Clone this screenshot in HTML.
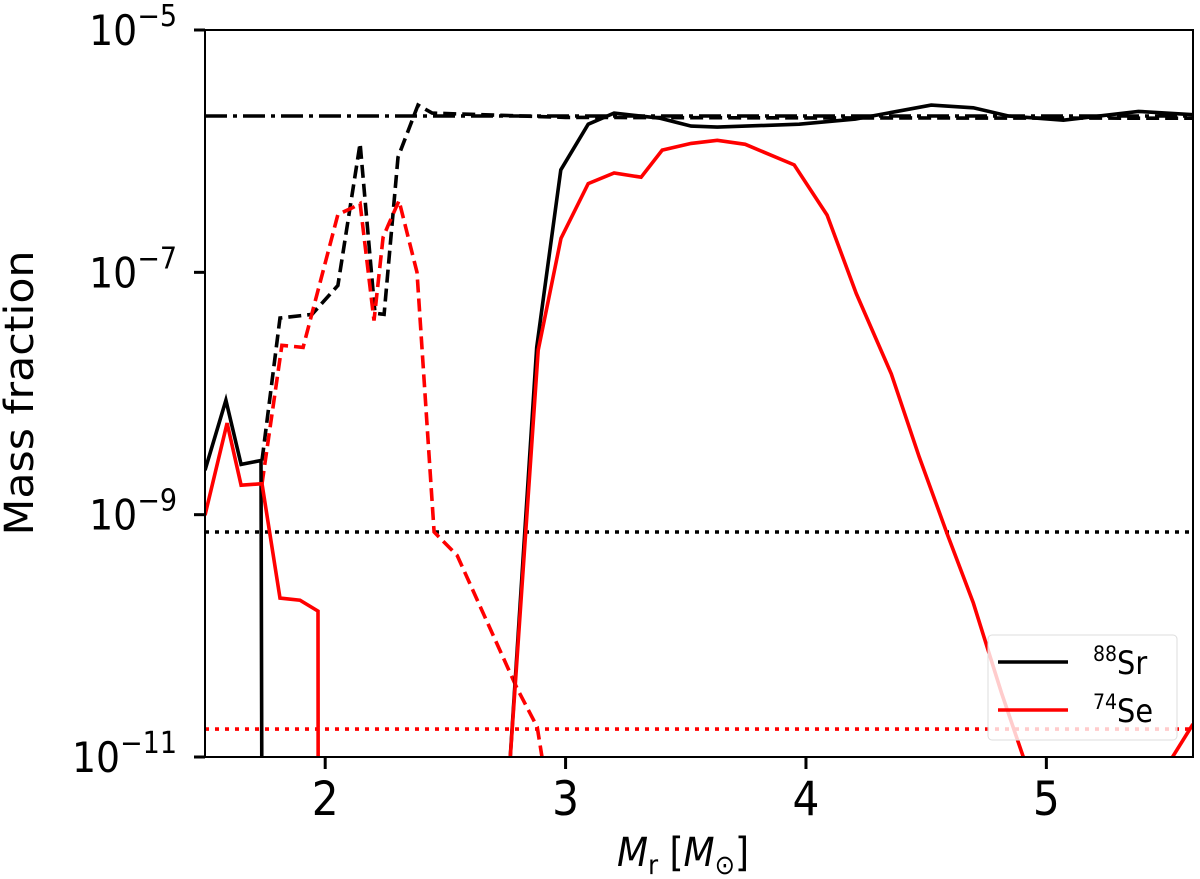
<!DOCTYPE html>
<html><head><meta charset="utf-8">
<style>
html,body{margin:0;padding:0;background:#fff;overflow:hidden;width:1200px;height:879px;}
svg{display:block;font-family:"DejaVu Sans Condensed","DejaVu Sans","Liberation Sans",sans-serif;}
</style></head>
<body>
<svg id="chart" width="1200" height="879" viewBox="0 0 1200 879" xmlns="http://www.w3.org/2000/svg">
<defs><clipPath id="plotclip"><rect x="205" y="30" width="988" height="727"/></clipPath></defs>
<rect x="0" y="0" width="1200" height="879" fill="#fff"/>
<g id="series" clip-path="url(#plotclip)"></g>
<rect x="205" y="30" width="988" height="727" fill="none" stroke="#000" stroke-width="2"/>
<g id="xticks"></g>
<g id="yticks"></g>
<text x="22" y="393" transform="rotate(-90 22 393)" text-anchor="middle" dominant-baseline="middle" font-size="40" textLength="285" lengthAdjust="spacingAndGlyphs">Mass fraction</text>
<text x="617" y="866" font-size="40"><tspan font-style="italic">M</tspan><tspan font-size="27" dy="8">r</tspan><tspan dy="-8"> [</tspan><tspan font-style="italic">M</tspan><tspan font-size="27" dy="8">⊙</tspan><tspan dy="-8">]</tspan></text>
<g>
<rect x="988" y="635" width="189" height="105" rx="4" fill="#fff" fill-opacity="0.8" stroke="#ddd" stroke-width="1"/>
<line x1="998" y1="662" x2="1068" y2="662" stroke="#000" stroke-width="3.5"/>
<text x="1093" y="674" font-size="32"><tspan font-size="21" dy="-13">88</tspan><tspan dy="13">Sr</tspan></text>
<line x1="998" y1="710" x2="1068" y2="710" stroke="#f00" stroke-width="3.5"/>
<text x="1093" y="722" font-size="32"><tspan font-size="21" dy="-13">74</tspan><tspan dy="13">Se</tspan></text>
</g>
</svg>
<script>
const xTicks = [2, 3, 4, 5];
const yTickExps = [-5, -7, -9, -11];
const srSolidM = [1.50, 1.587, 1.65, 1.733, 1.74, 2.76, 2.88, 2.98, 3.094, 3.202, 3.393, 3.522, 3.631, 3.972, 4.205, 4.521, 4.696, 4.842, 5.071, 5.383, 5.61];
const srSolidV = [2.33e-9, 8.8e-9, 2.6e-9, 2.8e-9, 1e-14, 5e-12, 2.4e-8, 7.0e-7, 1.67e-6, 2.06e-6, 1.87e-6, 1.61e-6, 1.58e-6, 1.67e-6, 1.84e-6, 2.4e-6, 2.28e-6, 1.95e-6, 1.8e-6, 2.13e-6, 2.0e-6];
const seSolidM = [1.50, 1.592, 1.65, 1.737, 1.812, 1.895, 1.970, 1.972, 2.77, 2.886, 2.981, 3.094, 3.202, 3.314, 3.402, 3.522, 3.631, 3.747, 3.951, 4.088, 4.209, 4.355, 4.471, 4.588, 4.696, 4.813, 4.904, 4.93, 5.0, 5.4, 5.61];
const seSolidV = [9.9e-10, 5.7e-9, 1.75e-9, 1.8e-9, 2.05e-10, 1.97e-10, 1.6e-10, 1e-14, 1e-11, 2.28e-8, 1.91e-7, 5.4e-7, 6.6e-7, 6.1e-7, 1.02e-6, 1.16e-6, 1.23e-6, 1.14e-6, 7.7e-7, 2.97e-7, 6.7e-8, 1.45e-8, 3.0e-9, 6.9e-10, 1.87e-10, 3.4e-11, 1e-11, 5e-12, 1e-13, 4e-12, 1.87e-11];
const srDashM = [1.737, 1.812, 1.945, 2.053, 2.145, 2.207, 2.245, 2.303, 2.386, 2.445, 3.0, 4.0, 5.61];
const srDashV = [2.8e-9, 4.2e-8, 4.5e-8, 7.8e-8, 1.16e-6, 4.6e-8, 4.5e-8, 8.9e-7, 2.4e-6, 2.06e-6, 1.9e-6, 1.88e-6, 1.87e-6];
const seDashM = [1.737, 1.820, 1.908, 2.053, 2.112, 2.145, 2.203, 2.241, 2.262, 2.307, 2.382, 2.453, 2.549, 2.798, 2.882, 2.902, 2.92];
const seDashV = [1.8e-9, 2.5e-8, 2.4e-8, 3.0e-7, 3.4e-7, 3.7e-7, 4.0e-8, 1.95e-7, 2.45e-7, 3.9e-7, 1.0e-7, 7.2e-10, 4.6e-10, 3.7e-11, 1.77e-11, 1e-11, 5e-12];
const refRange = [1.5, 5.61];
const srInitial = 1.95e-6;
const srSolar = 7.2e-10;
const seSolar = 1.7e-11;

const NS = 'http://www.w3.org/2000/svg';
const X0 = 205, X1 = 1193, Y0 = 30, Y1 = 757;
const xMin = 1.5, xMax = 5.61, yMinE = -11, yMaxE = -5;
function xs(m){ return X0 + (m - xMin) / (xMax - xMin) * (X1 - X0); }
function ys(v){ return Y1 - (Math.log10(v) - yMinE) / (yMaxE - yMinE) * (Y1 - Y0); }

const g = document.getElementById('series');
function line(ms, vs, color, dash, name){
  const p = document.createElementNS(NS, 'path');
  let d = '';
  for (let i = 0; i < ms.length; i++) d += (i ? 'L' : 'M') + xs(ms[i]).toFixed(1) + ' ' + ys(vs[i]).toFixed(1);
  p.setAttribute('d', d);
  p.setAttribute('fill', 'none');
  p.setAttribute('stroke', color);
  p.setAttribute('stroke-width', '3.6');
  p.setAttribute('stroke-linejoin', 'miter');
  if (dash) p.setAttribute('stroke-dasharray', dash);
  
  
  g.appendChild(p);
}
line(refRange, [srInitial, srInitial], '#000', '22 6 4 6', 'sr88-initial-line');
line(refRange, [srSolar, srSolar], '#000', '4 6', 'sr88-solar-line');
line(refRange, [seSolar, seSolar], '#f00', '4 6', 'se74-solar-line');
line(srDashM, srDashV, '#000', '13 6', 'sr88-dashed-line');
line(seDashM, seDashV, '#f00', '13 6', 'se74-dashed-line');
line(srSolidM, srSolidV, '#000', null, 'sr88-solid-line');
line(seSolidM, seSolidV, '#f00', null, 'se74-solid-line');

const xg = document.getElementById('xticks');
xTicks.forEach(t => {
  const x = xs(t);
  const l = document.createElementNS(NS, 'line');
  l.setAttribute('x1', x); l.setAttribute('x2', x);
  l.setAttribute('y1', Y1); l.setAttribute('y2', Y1 + 12);
  l.setAttribute('stroke', '#000'); l.setAttribute('stroke-width', '3');
  
  
  xg.appendChild(l);
  const tx = document.createElementNS(NS, 'text');
  tx.setAttribute('x', x); tx.setAttribute('y', 815);
  tx.setAttribute('text-anchor', 'middle'); tx.setAttribute('font-size', '47');
  tx.textContent = String(t);
  
  
  xg.appendChild(tx);
});
const yg = document.getElementById('yticks');
yTickExps.forEach(e => {
  const y = ys(Math.pow(10, e));
  const l = document.createElementNS(NS, 'line');
  l.setAttribute('x1', X0 - 11); l.setAttribute('x2', X0);
  l.setAttribute('y1', y); l.setAttribute('y2', y);
  l.setAttribute('stroke', '#000'); l.setAttribute('stroke-width', '3');
  
  
  yg.appendChild(l);
  const tx = document.createElementNS(NS, 'text');
  tx.setAttribute('x', 177); tx.setAttribute('y', y + 15);
  tx.setAttribute('text-anchor', 'end'); tx.setAttribute('font-size', '42');
  const a = document.createElementNS(NS, 'tspan'); a.textContent = '10';
  const b = document.createElementNS(NS, 'tspan'); b.textContent = '\u2212' + Math.abs(e);
  b.setAttribute('font-size', '30'); b.setAttribute('dy', '-19');
  tx.appendChild(a); tx.appendChild(b);
  
  
  yg.appendChild(tx);
});
</script>
</body></html>
